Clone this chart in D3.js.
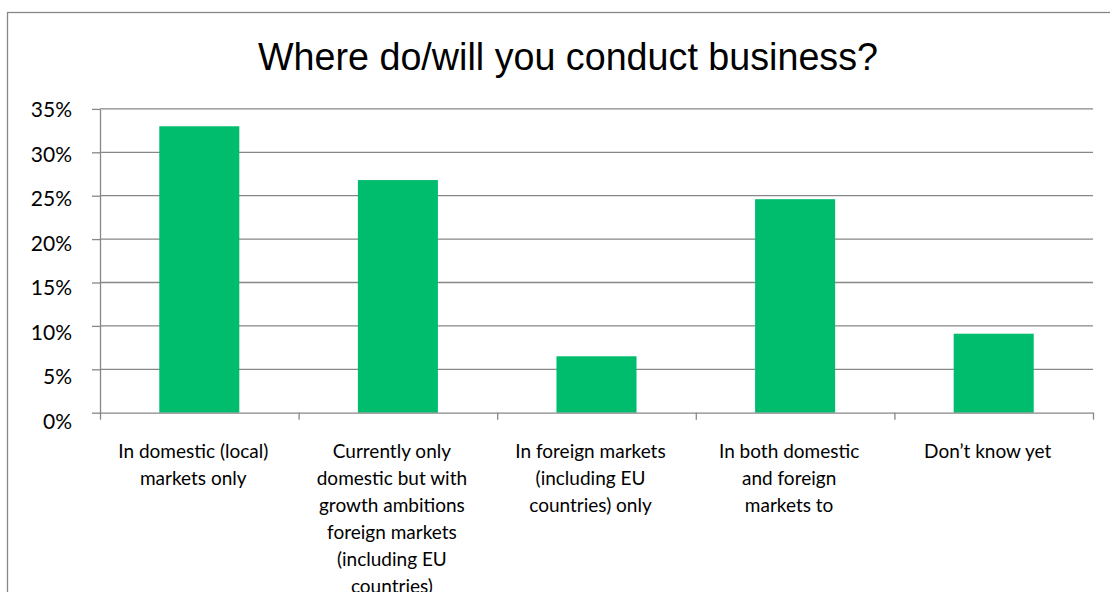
<!DOCTYPE html>
<html>
<head>
<meta charset="utf-8">
<script src="https://cdn.jsdelivr.net/npm/d3@7"></script>
<style>
  html, body { margin: 0; padding: 0; background: #fff; }
  svg { display: block; }
</style>
</head>
<body>
<svg id="chart" width="1110" height="592"></svg>
<script>
// ---- data ----
const chartTitle = "Where do/will you conduct business?";
const categories = [
  "In domestic (local) markets only",
  "Currently only domestic but with growth ambitions foreign markets (including EU countries)",
  "In foreign markets (including EU countries) only",
  "In both domestic and foreign markets to",
  "Don\u2019t know yet"
];
const categoryLines = [
  ["In domestic (local)", "markets only"],
  ["Currently only", "domestic but with", "growth ambitions", "foreign markets", "(including EU", "countries)"],
  ["In foreign markets", "(including EU", "countries) only"],
  ["In both domestic", "and foreign", "markets to"],
  ["Don\u2019t know yet"]
];
const shares = [33.0, 26.8, 6.5, 24.6, 9.1];   // percent of respondents
const yTicks = [0, 5, 10, 15, 20, 25, 30, 35];
const yTickLabels = ["0%", "5%", "10%", "15%", "20%", "25%", "30%", "35%"];

// ---- layout ----
const W = 1110, H = 592;
const plot = { left: 100, right: 1093, top: 108.9, bottom: 412.7 };
const axisColor = "#878787";
const barColor = "#00bd6e";
const labelFont = "Lato, 'Open Sans', sans-serif";
const tickFontSize = 21;

const svg = d3.select("#chart");

// outer chart frame
svg.append("rect")
  .attr("x", 7.5).attr("y", 12.5)
  .attr("width", W).attr("height", H)
  .attr("fill", "#fff")
  .attr("stroke", axisColor).attr("stroke-width", 1.3);

// title
svg.append("text")
  .attr("x", 568).attr("y", 70)
  .attr("text-anchor", "middle")
  .attr("font-family", "'Liberation Sans', Arial, sans-serif")
  .attr("font-size", 39)
  .attr("textLength", 620)
  .attr("lengthAdjust", "spacingAndGlyphs")
  .attr("fill", "#000")
  .text(chartTitle);

// scales
const x = d3.scaleBand()
  .domain(categories)
  .range([plot.left, plot.right])
  .paddingInner(0.597)
  .paddingOuter(0.2985);

const y = d3.scaleLinear()
  .domain([0, 35])
  .range([plot.bottom, plot.top]);

// horizontal gridlines
svg.append("g")
  .selectAll("line")
  .data(yTicks.filter(d => d > 0))
  .join("line")
  .attr("x1", plot.left).attr("x2", plot.right)
  .attr("y1", d => y(d)).attr("y2", d => y(d))
  .attr("stroke", axisColor).attr("stroke-width", 1.3);

// bars
svg.append("g")
  .selectAll("rect")
  .data(shares)
  .join("rect")
  .attr("x", (d, i) => x(categories[i]))
  .attr("width", x.bandwidth())
  .attr("y", d => y(d))
  .attr("height", d => y(0) - y(d))
  .attr("fill", barColor);

// y axis
const yAxis = d3.axisLeft(y)
  .tickValues(yTicks)
  .tickFormat((d, i) => yTickLabels[i])
  .tickSize(8)
  .tickSizeOuter(0)
  .tickPadding(20);

const gy = svg.append("g")
  .attr("transform", `translate(${plot.left},0)`)
  .call(yAxis);
gy.selectAll("path.domain, line").attr("stroke", axisColor).attr("stroke-width", 1.3);
gy.selectAll("text")
  .attr("font-family", labelFont)
  .attr("font-size", tickFontSize)
  .attr("fill", "#000")
  .attr("dy", d => (0.32 * tickFontSize + 1 + (35 - d) / 35 * 8) + "px");

// x axis: tick marks on category boundaries
const xEdges = d3.scaleLinear().domain([0, categories.length]).range([plot.left, plot.right]);
const gx = svg.append("g")
  .attr("transform", `translate(0,${plot.bottom})`)
  .call(d3.axisBottom(xEdges).ticks(categories.length).tickSize(7).tickSizeOuter(0).tickFormat(""));
gx.selectAll("path.domain, line").attr("stroke", axisColor).attr("stroke-width", 1.3);

// category labels (wrapped)
const labels = svg.append("g")
  .attr("font-family", labelFont)
  .attr("font-size", 19)
  .attr("fill", "#000")
  .attr("text-anchor", "middle");

labels.selectAll("text")
  .data(categories)
  .join("text")
  .attr("transform", d => `translate(${x(d) + x.bandwidth() / 2 - 6},0)`)
  .each(function(d, i) {
    d3.select(this).selectAll("tspan")
      .data(categoryLines[i])
      .join("tspan")
      .attr("x", 0)
      .attr("y", (t, j) => 458 + j * 27)
      .text(t => t);
  });
</script>
</body>
</html>
